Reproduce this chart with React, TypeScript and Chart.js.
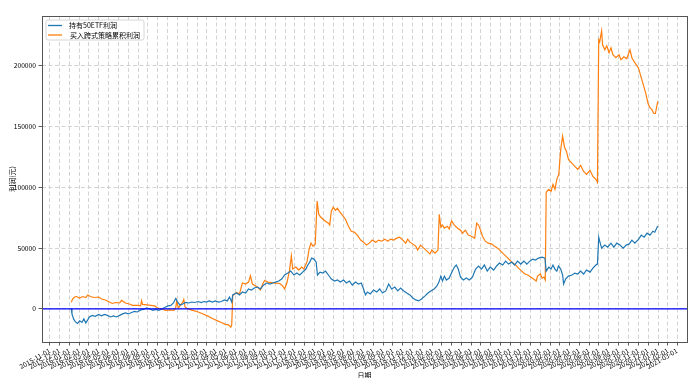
import React, { useEffect, useRef } from 'react';
import { Chart, registerables } from 'chart.js';

Chart.register(...registerables);

const FONT = '"Noto Sans CJK SC", "DejaVu Sans", sans-serif';

const legendLabels = ['持有50ETF利润', '买入跨式策略累积利润'];
const seriesColors = ['#1f77b4', '#ff7f0e'];
const xTitle = '日期';
const yTitle = '利润(元)';
const firstTickDate = '2015-11-01';
const tickMonths = 65;
const yTicks = [0, 50000, 100000, 150000, 200000];

const etfDates = [
  '2016-01-07','2016-01-09','2016-01-14','2016-01-20','2016-01-26','2016-02-02','2016-02-09','2016-02-15','2016-02-21','2016-02-27',
  '2016-03-03','2016-03-12','2016-03-21','2016-04-01','2016-04-10','2016-04-19','2016-04-28','2016-05-08','2016-05-17','2016-05-26',
  '2016-06-05','2016-06-14','2016-06-23','2016-07-02','2016-07-12','2016-07-21','2016-07-30','2016-08-09','2016-08-18','2016-08-28',
  '2016-09-07','2016-09-16','2016-09-25','2016-10-05','2016-10-13','2016-10-23','2016-11-02','2016-11-11','2016-11-19','2016-11-26',
  '2016-12-02','2016-12-09','2016-12-18','2016-12-27','2017-01-06','2017-01-15','2017-01-24','2017-02-04','2017-02-13','2017-02-22',
  '2017-03-01','2017-03-10','2017-03-20','2017-03-29','2017-04-08','2017-04-17','2017-04-26','2017-05-05','2017-05-12','2017-05-19',
  '2017-05-22','2017-06-03','2017-06-12','2017-06-21','2017-07-01','2017-07-10','2017-07-19','2017-07-28','2017-08-07','2017-08-16',
  '2017-08-26','2017-09-05','2017-09-14','2017-09-23','2017-10-02','2017-10-12','2017-10-21','2017-10-30','2017-11-09','2017-11-18',
  '2017-11-28','2017-12-07','2017-12-16','2017-12-25','2018-01-04','2018-01-10','2018-01-16','2018-01-22','2018-01-29','2018-02-05',
  '2018-02-09','2018-02-17','2018-02-26','2018-03-06','2018-03-15','2018-03-24','2018-04-03','2018-04-12','2018-04-21','2018-05-01',
  '2018-05-10','2018-05-19','2018-05-28','2018-06-07','2018-06-16','2018-06-25','2018-07-02','2018-07-08','2018-07-14','2018-07-23',
  '2018-08-02','2018-08-12','2018-08-21','2018-08-30','2018-09-09','2018-09-18','2018-09-27','2018-10-07','2018-10-16','2018-10-25',
  '2018-11-04','2018-11-13','2018-11-23','2018-12-02','2018-12-11','2018-12-20','2018-12-29','2019-01-09','2019-01-18','2019-01-27',
  '2019-02-06','2019-02-15','2019-02-21','2019-02-27','2019-03-04','2019-03-10','2019-03-16','2019-03-25','2019-04-01','2019-04-10',
  '2019-04-16','2019-04-22','2019-04-29','2019-05-08','2019-05-17','2019-05-26','2019-06-05','2019-06-15','2019-06-24','2019-07-03',
  '2019-07-12','2019-07-21','2019-07-30','2019-08-10','2019-08-19','2019-08-28','2019-09-07','2019-09-16','2019-09-25','2019-10-05',
  '2019-10-14','2019-10-23','2019-11-02','2019-11-12','2019-11-21','2019-11-30','2019-12-09','2019-12-18','2019-12-27','2020-01-07',
  '2020-01-16','2020-01-20','2020-01-28','2020-02-04','2020-02-10','2020-02-16','2020-02-22','2020-02-27','2020-03-05','2020-03-11',
  '2020-03-14','2020-03-20','2020-03-29','2020-04-09','2020-04-18','2020-04-27','2020-05-06','2020-05-15','2020-05-24','2020-06-04',
  '2020-06-13','2020-06-22','2020-06-27','2020-07-01','2020-07-04','2020-07-10','2020-07-20','2020-07-29','2020-08-08','2020-08-17',
  '2020-08-26','2020-09-05','2020-09-15','2020-09-24','2020-10-03','2020-10-12','2020-10-21','2020-11-02','2020-11-10','2020-11-19',
  '2020-11-28','2020-12-07','2020-12-16','2020-12-22','2020-12-31',
];
const etfProfit = [
  400,-4100,-8200,-10700,-11900,-9800,-11100,-8200,-11500,-9000,
  -6600,-5300,-6100,-4500,-5700,-4500,-5300,-6600,-5700,-6600,
  -5300,-4100,-3300,-4100,-2900,-2000,-2500,-800,-400,800,
  0,-1200,-400,-1200,0,1200,2500,2900,4900,8600,
  5700,3300,4100,5300,4900,5700,5300,6100,5300,6100,
  5700,6600,5700,6600,5700,6100,7400,6600,9800,5700,
  11500,13100,11500,13900,13100,16400,15600,17200,18000,16400,
  19700,21300,20500,21300,22100,23000,24600,27900,29500,31100,
  27900,29500,27900,30300,32800,36100,38500,41800,41000,38500,
  27900,30300,29500,31100,27900,24600,23000,23800,22100,23800,
  21300,23000,19700,22100,20500,21300,16400,11500,13900,12300,
  15600,13900,16400,13100,14800,20500,16400,18000,14800,17200,
  14800,13100,11500,9000,7400,6600,8200,10700,13100,14800,
  16400,18900,22100,27000,23000,27000,23800,25400,29500,34400,
  36100,32800,26200,23800,25400,23800,26200,32800,35300,32800,
  36100,31100,34400,32000,35300,37700,36100,39300,36900,38500,
  36100,39300,36900,39300,36900,39300,41000,40200,41800,42600,
  41800,31100,34400,32800,36100,32800,31100,35300,32800,27900,
  20500,24600,27000,27900,29500,28700,31100,28700,32000,30300,
  33600,36100,36900,59000,55700,50000,52500,50800,54100,50800,
  54100,52500,50000,52500,53300,56600,54100,57400,60700,59000,
  62300,60700,63900,63100,68300,
];

const straddleDates = [
  '2016-01-07','2016-01-11','2016-01-17','2016-01-23','2016-02-02','2016-02-12','2016-02-21','2016-02-27','2016-03-06','2016-03-18',
  '2016-04-01','2016-04-10','2016-04-22','2016-05-04','2016-05-13','2016-05-23','2016-06-05','2016-06-11','2016-06-23','2016-07-05',
  '2016-07-15','2016-07-30','2016-08-09','2016-08-12','2016-08-15','2016-08-28','2016-09-10','2016-09-22','2016-10-01','2016-10-13',
  '2016-10-26','2016-11-08','2016-11-20','2016-11-26','2016-11-29','2016-12-04','2016-12-12','2016-12-18','2016-12-21','2016-12-25',
  '2017-01-03','2017-01-18','2017-02-04','2017-02-19','2017-03-04','2017-03-20','2017-04-05','2017-04-17','2017-04-29','2017-05-09',
  '2017-05-16','2017-05-19','2017-05-22','2017-05-24','2017-06-03','2017-06-12','2017-06-21','2017-07-01','2017-07-10','2017-07-16',
  '2017-07-22','2017-08-01','2017-08-10','2017-08-16','2017-08-23','2017-08-29','2017-09-08','2017-09-20','2017-10-02','2017-10-15',
  '2017-10-24','2017-10-30','2017-11-06','2017-11-14','2017-11-20','2017-11-24','2017-12-04','2017-12-13','2017-12-22','2017-12-29',
  '2018-01-08','2018-01-14','2018-01-20','2018-01-26','2018-02-02','2018-02-08','2018-02-13','2018-02-17','2018-02-26','2018-03-06',
  '2018-03-15','2018-03-19','2018-03-24','2018-03-30','2018-04-06','2018-04-12','2018-04-18','2018-04-28','2018-05-07','2018-05-16',
  '2018-05-25','2018-06-04','2018-06-13','2018-06-23','2018-07-02','2018-07-11','2018-07-20','2018-07-29','2018-08-09','2018-08-18',
  '2018-08-27','2018-09-06','2018-09-15','2018-09-24','2018-10-04','2018-10-13','2018-10-22','2018-11-01','2018-11-10','2018-11-16',
  '2018-11-23','2018-12-02','2018-12-11','2018-12-17','2018-12-26','2019-01-05','2019-01-15','2019-01-24','2019-01-30','2019-02-09',
  '2019-02-18','2019-02-22','2019-02-27','2019-03-04','2019-03-10','2019-03-19','2019-03-25','2019-04-01','2019-04-10','2019-04-20',
  '2019-04-29','2019-05-05','2019-05-14','2019-05-23','2019-06-02','2019-06-12','2019-06-18','2019-06-24','2019-06-30','2019-07-06',
  '2019-07-15','2019-07-24','2019-08-04','2019-08-13','2019-08-22','2019-09-01','2019-09-10','2019-09-20','2019-09-29','2019-10-08',
  '2019-10-17','2019-10-26','2019-11-05','2019-11-15','2019-11-24','2019-12-03','2019-12-12','2019-12-20','2019-12-24','2020-01-02',
  '2020-01-07','2020-01-13','2020-01-17','2020-01-20','2020-01-28','2020-02-04','2020-02-10','2020-02-16','2020-02-22','2020-02-28',
  '2020-03-05','2020-03-11','2020-03-17','2020-03-23','2020-03-29','2020-04-09','2020-04-18','2020-04-27','2020-05-06','2020-05-15',
  '2020-05-24','2020-06-04','2020-06-13','2020-06-22','2020-06-27','2020-07-01','2020-07-04','2020-07-10','2020-07-13','2020-07-20',
  '2020-07-26','2020-08-02','2020-08-08','2020-08-14','2020-08-23','2020-09-02','2020-09-08','2020-09-17','2020-09-26','2020-10-06',
  '2020-10-12','2020-10-21','2020-11-01','2020-11-10','2020-11-19','2020-11-25','2020-12-01','2020-12-07','2020-12-13','2020-12-19',
  '2020-12-24','2020-12-31',
];
const straddleProfit = [
  5500,8200,9800,10200,9000,10200,9400,11500,10200,9400,
  9800,8200,7400,5700,4500,5300,4900,7000,4900,4100,
  2900,2900,2500,6800,3700,3300,2900,2500,800,0,
  -1200,-800,-1200,800,6600,800,3300,5700,7800,1600,
  0,-1200,-2500,-4100,-5700,-7800,-9800,-11100,-12700,-13100,
  -15000,-13100,11100,11500,13500,12300,21300,20500,22100,27300,
  20500,18900,17200,15600,20500,23400,22100,21700,21300,20900,
  18900,16400,21300,31100,43700,32800,34400,32000,34400,32800,
  39300,49200,54100,51600,53300,88800,77900,76200,73800,72100,
  70500,68900,80300,83600,81100,82800,80300,77000,73800,68000,
  63900,63100,60700,56600,54900,52500,54100,56600,54900,56600,
  55700,57400,55700,57400,56600,58200,59000,56600,54100,57400,
  54900,53300,51600,48400,52500,50000,47500,45100,48400,45900,
  48400,77900,67200,68900,66400,68000,65600,72400,68900,66400,
  64800,62300,64800,60700,59800,58200,70500,68900,64800,59800,
  55700,54100,53300,51600,50000,47500,45100,42600,40200,37700,
  36100,33600,31100,28700,27900,26200,24600,23000,27000,28700,
  25400,26200,23800,95900,98400,96700,102500,98400,106600,110700,
  131100,142100,132800,129500,123000,119700,117200,114800,118000,113100,
  110700,114000,109000,106600,104100,221300,219700,228700,217200,213100,
  216400,210700,214700,209000,206600,209000,204900,207400,205700,213100,
  206600,202500,198400,190200,182000,176200,168900,165600,163900,160700,
  160700,170700,
];

const DAY_MS = 86400000;
function toDay(s: string): number {
  const [y, m, d] = s.split('-').map(Number);
  return Date.UTC(y, m - 1, d) / DAY_MS;
}
function dayLabel(v: number): string {
  return new Date(Math.round(v) * DAY_MS).toISOString().slice(0, 10);
}
function monthTicks(): number[] {
  const [y, m] = firstTickDate.split('-').map(Number);
  const out: number[] = [];
  for (let i = 0; i < tickMonths; i++) out.push(Date.UTC(y, m - 1 + i, 1) / DAY_MS);
  return out;
}

export default function App() {
  const ref = useRef<HTMLCanvasElement | null>(null);
  useEffect(() => {
    const canvas = ref.current;
    if (!canvas) return;
    const etfPts = etfDates.map((d, i) => ({ x: toDay(d), y: etfProfit[i] }));
    const strPts = straddleDates.map((d, i) => ({ x: toDay(d), y: straddleProfit[i] }));
    const allX = [...etfPts, ...strPts].map((p) => p.x);
    const allY = [...etfProfit, ...straddleProfit];
    const x0 = Math.min(...allX), x1 = Math.max(...allX);
    const y0 = Math.min(...allY), y1 = Math.max(...allY);
    const xm = (x1 - x0) * 0.05, ym = (y1 - y0) * 0.05;

    const decor = {
      id: 'decor',
      afterDatasetsDraw(chart: any) {
        const { ctx, chartArea: a, scales } = chart;
        const yz = scales.y.getPixelForValue(0);
        ctx.save();
        ctx.strokeStyle = '#0000ff';
        ctx.lineWidth = 1.3;
        ctx.beginPath();
        ctx.moveTo(a.left, yz);
        ctx.lineTo(a.right, yz);
        ctx.stroke();
        ctx.strokeStyle = '#555555';
        ctx.lineWidth = 1;
        ctx.strokeRect(Math.round(a.left) + 0.5, Math.round(a.top) + 0.5, Math.round(a.right - a.left), Math.round(a.bottom - a.top));
        ctx.restore();
      },
      afterDraw(chart: any) {
        const { ctx, chartArea: a } = chart;
        const bx = a.left + 4, by = a.top + 4, bw = 98, bh = 20, r = 2;
        ctx.save();
        ctx.beginPath();
        ctx.moveTo(bx + r, by);
        ctx.lineTo(bx + bw - r, by);
        ctx.quadraticCurveTo(bx + bw, by, bx + bw, by + r);
        ctx.lineTo(bx + bw, by + bh - r);
        ctx.quadraticCurveTo(bx + bw, by + bh, bx + bw - r, by + bh);
        ctx.lineTo(bx + r, by + bh);
        ctx.quadraticCurveTo(bx, by + bh, bx, by + bh - r);
        ctx.lineTo(bx, by + r);
        ctx.quadraticCurveTo(bx, by, bx + r, by);
        ctx.closePath();
        ctx.fillStyle = 'rgba(255,255,255,0.85)';
        ctx.fill();
        ctx.strokeStyle = '#cccccc';
        ctx.lineWidth = 0.8;
        ctx.stroke();
        ctx.font = `7px ${FONT}`;
        ctx.textBaseline = 'middle';
        legendLabels.forEach((label, i) => {
          const yy = by + 5.5 + i * 9.5;
          ctx.strokeStyle = seriesColors[i];
          ctx.lineWidth = 1.3;
          ctx.beginPath();
          ctx.moveTo(bx + 2, yy);
          ctx.lineTo(bx + 16, yy);
          ctx.stroke();
          ctx.fillStyle = '#000000';
          ctx.fillText(label, bx + 23 + i, yy);
        });
        ctx.restore();
      },
    };

    const chart = new Chart(canvas, {
      type: 'line',
      data: {
        datasets: [
          { label: legendLabels[0], data: etfPts, borderColor: seriesColors[0], borderWidth: 1.2, pointRadius: 0, tension: 0, fill: false },
          { label: legendLabels[1], data: strPts, borderColor: seriesColors[1], borderWidth: 1.2, pointRadius: 0, tension: 0, fill: false },
        ],
      },
      options: {
        responsive: false,
        animation: false,
        devicePixelRatio: 1,
        parsing: false,
        normalized: true,
        layout: { padding: { top: 16, right: 10, left: 0, bottom: 0 } },
        plugins: { legend: { display: false }, tooltip: { enabled: false } },
        scales: {
          x: {
            type: 'linear',
            min: x0 - xm,
            max: x1 + xm,
            afterFit: (s: any) => { s.height = 36; },
            afterBuildTicks: (s: any) => { s.ticks = monthTicks().map((v) => ({ value: v })); },
            ticks: {
              autoSkip: false,
              minRotation: 30,
              maxRotation: 30,
              padding: 1,
              color: '#000000',
              font: { family: FONT, size: 6.7 },
              callback: (v: any) => dayLabel(Number(v)),
            },
            grid: { color: '#c8c8c8', lineWidth: 0.8, tickColor: '#333333', tickLength: 3.5, tickWidth: 0.8 },
            border: { display: false, dash: [4, 2.5] },
            title: { display: true, text: xTitle, color: '#000000', font: { family: FONT, size: 7 }, padding: { top: 0, bottom: -1.2 } },
          },
          y: {
            type: 'linear',
            min: y0 - ym,
            max: y1 + ym,
            afterFit: (s: any) => { s.width = 42; },
            afterBuildTicks: (s: any) => { s.ticks = yTicks.map((v) => ({ value: v })); },
            ticks: {
              padding: 2.5,
              color: '#000000',
              font: { family: FONT, size: 6.7 },
              callback: (v: any) => String(v),
            },
            grid: { color: '#c8c8c8', lineWidth: 0.8, tickColor: '#333333', tickLength: 3.5, tickWidth: 0.8 },
            border: { display: false, dash: [4, 2.5] },
            title: { display: true, text: yTitle, color: '#000000', font: { family: FONT, size: 7 }, padding: { top: 8, bottom: 0 } },
          },
        },
      },
      plugins: [decor],
    } as any);
    return () => chart.destroy();
  }, []);

  return (
    <div style={{ position: 'absolute', left: 0, top: 0, width: 697, height: 378, background: '#ffffff' }}>
      <canvas ref={ref} width={697} height={378} style={{ width: 697, height: 378, display: 'block' }} />
    </div>
  );
}
